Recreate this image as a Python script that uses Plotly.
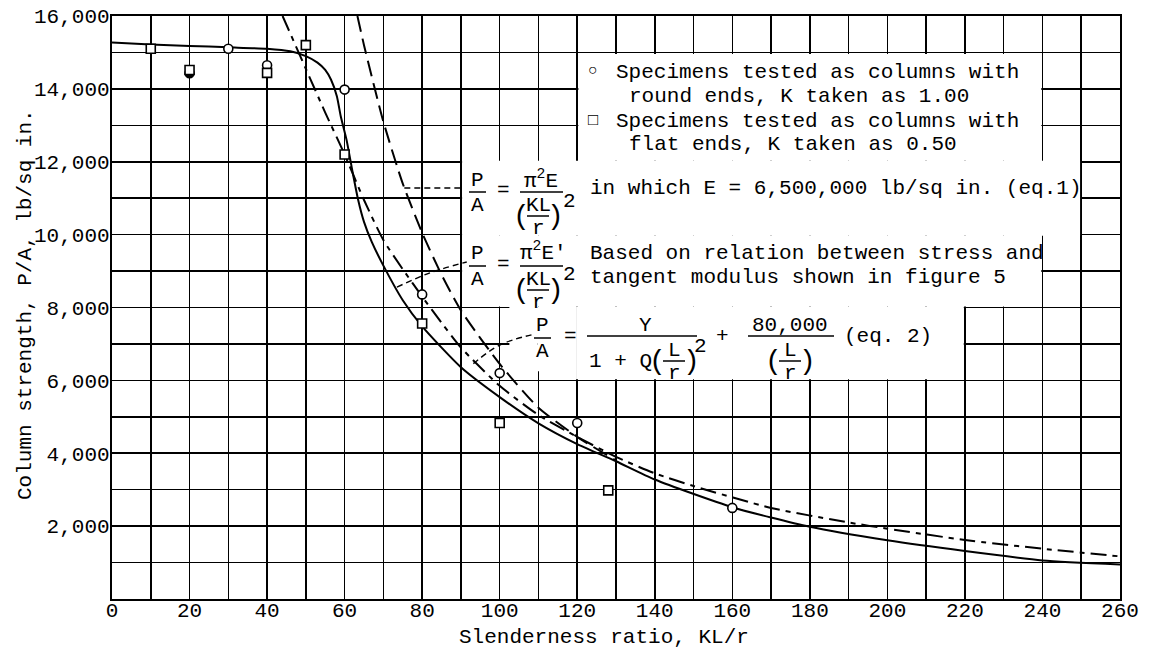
import plotly.graph_objects as go

FONT = "Liberation Mono"
FS = 21

# ---------------- data ----------------
# test specimens
round_x = [20, 30, 40, 60, 80, 100, 120, 160]
round_y = [14430, 15100, 14650, 13980, 8360, 6200, 4830, 2500]
flat_x = [10, 20, 40, 50, 60, 80, 100, 128]
flat_y = [15100, 14520, 14440, 15200, 12200, 7560, 4830, 2980]

# solid curve (tangent modulus)
tan_x = [0, 10, 20, 30, 40, 46, 50, 53, 55, 56.5, 58, 59, 60.5, 62, 63.5, 65, 67, 70, 75, 80,
         90, 100, 110, 120, 130, 140, 160, 180, 200, 220, 240, 260]
tan_y = [15270, 15220, 15180, 15140, 15100, 15030, 14900, 14720, 14520, 14250, 13800, 13250,
         12600, 11750, 10950, 10350, 9800, 9150, 8200, 7480, 6360, 5540, 4820, 4250, 3780,
         3280, 2520, 1980, 1610, 1315, 1060, 950]

# dash-dot curve (eq. 2)
eq2_x = [44, 50, 55, 60, 65, 70, 75, 80, 85, 90, 100, 110, 120, 130, 140, 150, 170, 190, 200,
         220, 240, 260]
eq2_y = [16000, 14550, 13350, 12200, 10950, 9850, 9050, 8300, 7580, 6900, 5850, 5050, 4450,
         3900, 3450, 3100, 2500, 2100, 1930, 1620, 1380, 1170]

# long-dash curve (eq. 1, Euler)
eul_x = [63.3, 65, 70, 75, 80, 85, 90, 100, 110, 120, 130]
eul_y = [16000, 15200, 13100, 11400, 10050, 8900, 7920, 6450, 5250, 4450, 3800]

# leader lines
lead1_x = [75.4, 90.5]
lead1_y = [11280, 11280]
lead2_x = [73.5, 82.0, 91.5]
lead2_y = [8560, 8950, 9250]
lead3_x = [93.2, 100.0, 108.2]
lead3_y = [6460, 6970, 7250]

x_ticks = list(range(0, 261, 20))
y_ticks = list(range(2000, 16001, 2000))
y_tick_text = [f"{v:,}" for v in y_ticks]

# ---------------- figure ----------------
fig = go.Figure()

fig.add_trace(go.Scatter(x=tan_x, y=tan_y, mode="lines",
                         line=dict(color="black", width=2, shape="spline", smoothing=0.6)))
fig.add_trace(go.Scatter(x=eq2_x, y=eq2_y, mode="lines",
                         line=dict(color="black", width=2, shape="spline", smoothing=0.6,
                                   dash="16px,6px,5px,6px")))
fig.add_trace(go.Scatter(x=eul_x, y=eul_y, mode="lines",
                         line=dict(color="black", width=2, shape="spline", smoothing=0.6,
                                   dash="16px,7px")))
for lx, ly in [(lead1_x, lead1_y), (lead2_x, lead2_y), (lead3_x, lead3_y)]:
    fig.add_trace(go.Scatter(x=lx, y=ly, mode="lines",
                             line=dict(color="black", width=1.4, shape="spline", dash="6px,4px")))

round_fill = ["black" if x == 20 else "white" for x in round_x]
fig.add_trace(go.Scatter(x=round_x, y=round_y, mode="markers",
                         marker=dict(symbol="circle", size=9, color=round_fill,
                                     line=dict(color="black", width=1.6))))
fig.add_trace(go.Scatter(x=flat_x, y=flat_y, mode="markers",
                         marker=dict(symbol="square", size=9, color="white",
                                     line=dict(color="black", width=1.6))))

# ---------------- blank (white) areas behind the text ----------------
blank = [
    (120.3, 239.7, 12030, 14960),
    (90.3, 249.7, 9970, 12030),
    (90.3, 239.7, 8030, 9970),
    (102.5, 109.7, 6900, 8030),
    (109.7, 119.7, 6250, 8030),
    (119.7, 219.7, 6030, 8030),
]
shapes = []
for x0, x1, y0, y1 in blank:
    shapes.append(dict(type="rect", xref="x", yref="y", x0=x0, x1=x1, y0=y0, y1=y1,
                       fillcolor="white", line=dict(width=0), layer="between"))

# ---------------- text helpers (screen pixel positions) ----------------
L, R, T, B = 112, 1120, 16, 599   # plot area on screen
annotations = []


def px(x, y):
    return (x - L) / (R - L), (B - y) / (B - T)


def txt(s, x, y, anchor="center", size=FS, angle=0):
    xp, yp = px(x, y)
    annotations.append(dict(text=s, x=xp, y=yp, xref="paper", yref="paper", xanchor=anchor,
                            yanchor="middle", showarrow=False, textangle=angle,
                            font=dict(family=FONT, size=size, color="black")))


def bar(x0, x1, y):
    a, b = px(x0, y)
    c, _ = px(x1, y)
    shapes.append(dict(type="line", xref="paper", yref="paper", x0=a, x1=c, y0=b, y1=b,
                       line=dict(color="black", width=1.5), layer="above"))


def klr(cx, cy, num="KL"):
    # nested fraction (KL / r) in parentheses
    txt("(", cx - 17, cy, size=28)
    txt(num, cx, cy - 11)
    bar(cx - 11, cx + 11, cy)
    txt("r", cx, cy + 12)
    txt(")", cx + 17, cy, size=28)


# legend
txt("\u25CB", 593, 71, size=16)
txt("Specimens tested as columns with", 614, 72, anchor="left")
txt("round ends, K taken as 1.00", 627, 97, anchor="left")
txt("\u25A1", 593, 120, size=17)
txt("Specimens tested as columns with", 614, 121, anchor="left")
txt("flat ends, K taken as 0.50", 627, 145, anchor="left")

# eq. 1
txt("P", 477, 180); bar(469, 486, 192); txt("A", 477, 205)
txt("=", 503, 190)
txt("\u03c0<sup>2</sup>E", 541, 179); bar(520, 563, 192)
klr(538, 216)
txt("2", 569, 201)
txt("in which E = 6,500,000 lb/sq in. (eq.1)", 588, 188, anchor="left")

# eq. 1 (tangent modulus)
txt("P", 477, 253); bar(469, 486, 266); txt("A", 477, 279)
txt("=", 503, 264)
txt("\u03c0<sup>2</sup>E'", 543, 252); bar(520, 563, 266)
klr(538, 290)
txt("2", 569, 274)
txt("Based on relation between stress and", 588, 253, anchor="left")
txt("tangent modulus shown in figure 5", 588, 277, anchor="left")

# eq. 2
txt("P", 542, 326); bar(534, 551, 338); txt("A", 542, 351)
txt("=", 570, 337)
txt("Y", 645, 325); bar(587, 697, 336)
txt("1 + Q", 620, 361)
klr(674, 361, num="L")
txt("2", 700, 346)
txt("+", 722, 337)
txt("80,000", 790, 325); bar(748, 834, 336)
klr(790, 361, num="L")
txt("(eq. 2)", 842, 337, anchor="left")

# axis titles
txt("Column strength, P/A, lb/sq in.", 25, 305, angle=-90)
txt("Slenderness ratio, KL/r", 604, 637)

W, H = 1153, 659
fig.update_layout(
    width=W, height=H,
    margin=dict(l=L, r=W - R, t=T, b=H - B),
    paper_bgcolor="white", plot_bgcolor="white",
    showlegend=False,
    font=dict(family=FONT, size=FS, color="black"),
    shapes=shapes, annotations=annotations,
    xaxis=dict(range=[0, 260], tickvals=x_ticks, ticks="", showgrid=True, automargin=False,
               gridcolor="black", gridwidth=1.6, zeroline=False, ticklabelstandoff=-9,
               showline=True, linecolor="black", linewidth=2.2, mirror=True,
               tickfont=dict(family=FONT, size=FS, color="black"),
               minor=dict(dtick=10, tick0=0, showgrid=True, gridcolor="black", gridwidth=1.6)),
    yaxis=dict(range=[0, 16000], tickvals=y_ticks, ticktext=y_tick_text, ticks="",
               showgrid=True, gridcolor="black", gridwidth=1.6, zeroline=False, automargin=False,
               showline=True, linecolor="black", linewidth=2.2, mirror=True, ticklabelstandoff=-4,
               tickfont=dict(family=FONT, size=FS, color="black"),
               minor=dict(dtick=1000, tick0=0, showgrid=True, gridcolor="black", gridwidth=1.6)),
)

# remove the browser's default page margin so the figure sits at the window origin
fig.write_html("out.html",
               config={"displayModeBar": False, "staticPlot": True},
               post_script="document.body.style.margin='0';document.body.style.padding='0';"
                           "document.body.style.overflow='hidden';"
                           "document.documentElement.style.overflow='hidden';")
